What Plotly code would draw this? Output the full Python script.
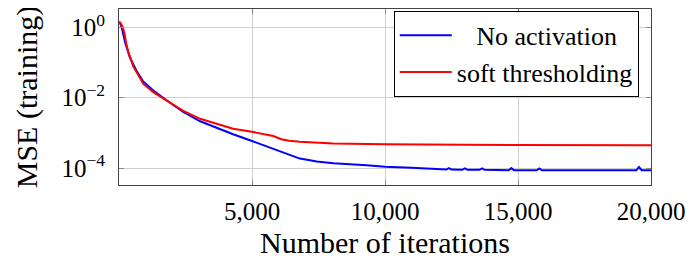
import plotly.graph_objects as go

# Data (iteration, log10 MSE)
blue_iter = [0, 40, 100, 225, 410, 675, 900, 1280, 1800, 2400, 3050, 3680, 4290,
             5000, 5560, 6170, 6800, 7440, 8060, 9320, 10000, 11000, 12000,
             12300, 12400, 12500, 12900, 13000, 13100, 13550, 13650, 13750,
             14650, 14750, 14850, 15700, 15800, 15900, 17000, 18700, 19450,
             19550, 19650, 20000]
blue_log = [0.16, 0.12, 0.0, -0.42, -0.86, -1.26, -1.53, -1.79, -2.08, -2.4, -2.67,
            -2.86, -3.04, -3.23, -3.39, -3.57, -3.73, -3.81, -3.86, -3.92, -3.96,
            -3.99, -4.03,
            -4.04, -4.0, -4.04, -4.05, -4.01, -4.05, -4.05, -4.01, -4.05,
            -4.06, -4.0, -4.06, -4.06, -4.01, -4.06, -4.06, -4.06, -4.06,
            -3.97, -4.06, -4.06]

red_iter = [0, 60, 130, 200, 270, 350, 540, 915, 1300, 1800, 2400, 3050, 3680, 4290,
            5000, 5560, 5800, 6100, 6400, 6800, 8060, 10000, 13000, 20000]
red_log = [0.15, 0.12, 0.02, -0.15, -0.45, -0.7, -1.12, -1.61, -1.85, -2.08, -2.37,
           -2.6, -2.75, -2.88, -2.97, -3.04, -3.09, -3.18, -3.22, -3.25, -3.30, -3.32,
           -3.34, -3.35]

series_names = ["\u00a0\u00a0\u00a0No activation", "soft thresholding"]
y_tickvals = [1, 1e-2, 1e-4]
y_ticktext = ["10<sup>0</sup>", "10<sup>−2</sup>", "10<sup>−4</sup>"]
x_tickvals = [5000, 10000, 15000, 20000]
x_ticktext = ["5,000", "10,000", "15,000", "20,000"]

by = [10 ** v for v in blue_log]
ry = [10 ** v for v in red_log]

FONT = "Liberation Serif"
FS = 25

fig = go.Figure()
fig.add_trace(go.Scatter(x=blue_iter, y=by, mode="lines", name=series_names[0],
                         line=dict(color="#0000ff", width=2)))
fig.add_trace(go.Scatter(x=red_iter, y=ry, mode="lines", name=series_names[1],
                         line=dict(color="#ff0000", width=2)))

# the page body has an 8px margin, so the figure is sized to fit inside it
fig.update_layout(
    width=679, height=251,
    margin=dict(l=111, r=36, t=0, b=63),
    paper_bgcolor="white", plot_bgcolor="white",
    font=dict(family=FONT, size=FS, color="black"),
    legend=dict(x=0.977, y=0.99, xanchor="right", yanchor="top",
                bordercolor="black", borderwidth=1, bgcolor="white",
                font=dict(family=FONT, size=26), itemwidth=52),
    xaxis=dict(range=[0, 20000], tickvals=x_tickvals, ticktext=x_ticktext,
               showgrid=True, gridcolor="#cfcfcf", gridwidth=1,
               showline=True, linecolor="#444444", linewidth=1, mirror="allticks",
               ticks="inside", ticklen=5, tickcolor="#888888",
               zeroline=False, ticklabelstandoff=4,
               title=dict(text="Number of iterations", standoff=13)),
    yaxis=dict(type="log", range=[-4.48, 0.519], tickvals=y_tickvals, ticktext=y_ticktext,
               showgrid=True, gridcolor="#cfcfcf", gridwidth=1,
               showline=True, linecolor="#444444", linewidth=1, mirror="allticks",
               ticks="inside", ticklen=5, tickcolor="#888888",
               zeroline=False, ticklabelstandoff=8,
               title=dict(text="MSE (training)", standoff=14)),
)

fig.write_html("out.html")
